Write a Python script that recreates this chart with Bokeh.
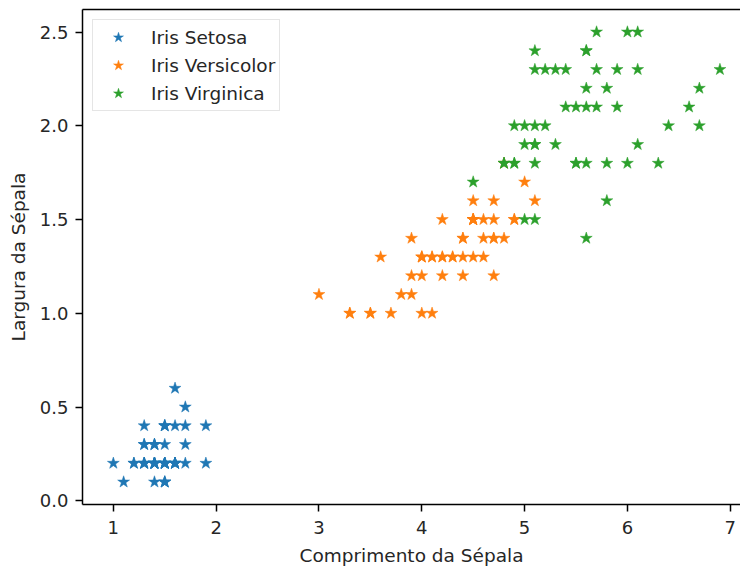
from bokeh.plotting import figure
from bokeh.models import (ColumnDataSource, LinearAxis, FixedTicker, Range1d, Legend, LegendItem,
                          PrintfTickFormatter)
from bokeh.embed import file_html
from bokeh.resources import INLINE

# Petal measurements (comprimento x largura) by species
setosa_len = [1.4, 1.4, 1.3, 1.5, 1.4, 1.7, 1.4, 1.5, 1.4, 1.5, 1.5, 1.6, 1.4, 1.1, 1.2, 1.5, 1.3,
              1.4, 1.7, 1.5, 1.7, 1.5, 1.0, 1.7, 1.9, 1.6, 1.6, 1.5, 1.4, 1.6, 1.6, 1.5, 1.5, 1.4,
              1.5, 1.2, 1.3, 1.5, 1.3, 1.5, 1.3, 1.3, 1.3, 1.6, 1.9, 1.4, 1.6, 1.4, 1.5, 1.4]
setosa_wid = [0.2, 0.2, 0.2, 0.2, 0.2, 0.4, 0.3, 0.2, 0.2, 0.1, 0.2, 0.2, 0.1, 0.1, 0.2, 0.4, 0.4,
              0.3, 0.3, 0.3, 0.2, 0.4, 0.2, 0.5, 0.2, 0.2, 0.4, 0.2, 0.2, 0.2, 0.2, 0.4, 0.1, 0.2,
              0.2, 0.2, 0.2, 0.1, 0.2, 0.2, 0.3, 0.3, 0.2, 0.6, 0.4, 0.3, 0.2, 0.2, 0.2, 0.2]

versicolor_len = [4.7, 4.5, 4.9, 4.0, 4.6, 4.5, 4.7, 3.3, 4.6, 3.9, 3.5, 4.2, 4.0, 4.7, 3.6, 4.4, 4.5,
                  4.1, 4.5, 3.9, 4.8, 4.0, 4.9, 4.7, 4.3, 4.4, 4.8, 5.0, 4.5, 3.5, 3.8, 3.7, 3.9, 5.1,
                  4.5, 4.5, 4.7, 4.4, 4.1, 4.0, 4.4, 4.6, 4.0, 3.3, 4.2, 4.2, 4.2, 4.3, 3.0, 4.1]
versicolor_wid = [1.4, 1.5, 1.5, 1.3, 1.5, 1.3, 1.6, 1.0, 1.3, 1.4, 1.0, 1.5, 1.0, 1.4, 1.3, 1.4, 1.5,
                  1.0, 1.5, 1.1, 1.8, 1.3, 1.5, 1.2, 1.3, 1.4, 1.4, 1.7, 1.5, 1.0, 1.1, 1.0, 1.2, 1.6,
                  1.5, 1.6, 1.5, 1.3, 1.3, 1.3, 1.2, 1.4, 1.2, 1.0, 1.3, 1.2, 1.3, 1.3, 1.1, 1.3]

virginica_len = [6.0, 5.1, 5.9, 5.6, 5.8, 6.6, 4.5, 6.3, 5.8, 6.1, 5.1, 5.3, 5.5, 5.0, 5.1, 5.3, 5.5,
                 6.7, 6.9, 5.0, 5.7, 4.9, 6.7, 4.9, 5.7, 6.0, 4.8, 4.9, 5.6, 5.8, 6.1, 6.4, 5.6, 5.1,
                 5.6, 6.1, 5.6, 5.5, 4.8, 5.4, 5.6, 5.1, 5.1, 5.9, 5.7, 5.2, 5.0, 5.2, 5.4, 5.1]
virginica_wid = [2.5, 1.9, 2.1, 1.8, 2.2, 2.1, 1.7, 1.8, 1.8, 2.5, 2.0, 1.9, 2.1, 2.0, 2.4, 2.3, 1.8,
                 2.2, 2.3, 1.5, 2.3, 2.0, 2.0, 1.8, 2.1, 1.8, 1.8, 1.8, 2.1, 1.6, 1.9, 2.0, 2.2, 1.5,
                 1.4, 2.3, 2.4, 1.8, 1.8, 2.1, 2.4, 2.3, 1.9, 2.3, 2.5, 2.3, 1.9, 2.0, 2.3, 1.8]

series_names = ["Iris Setosa", "Iris Versicolor", "Iris Virginica"]
series_colors = ["#1f77b4", "#ff7f0e", "#2ca02c"]
x_ticks = [1, 2, 3, 4, 5, 6, 7]
y_ticks = [0.0, 0.5, 1.0, 1.5, 2.0, 2.5]

FONT = "DejaVu Sans"
TEXT = "#262626"

p = figure(width=740, height=568, output_backend="svg", toolbar_location=None,
           x_range=Range1d(0.70, 7.10), y_range=Range1d(-0.02, 2.62),
           min_border_left=82, min_border_right=0, min_border_top=9, min_border_bottom=62)
p.grid.visible = False
p.outline_line_color = None
p.background_fill_color = "white"
p.border_fill_color = "white"

series = [(setosa_len, setosa_wid), (versicolor_len, versicolor_wid), (virginica_len, virginica_wid)]
items = []
for (xs, ys), name, color in zip(series, series_names, series_colors):
    src = ColumnDataSource(dict(x=xs, y=ys))
    r = p.scatter("x", "y", source=src, marker="star", size=12.5,
                  fill_color=color, line_color=color, line_width=0.5)
    items.append(LegendItem(label=name, renderers=[r]))

p.xaxis.axis_label = "Comprimento da Sépala"
p.yaxis.axis_label = "Largura da Sépala"
p.xaxis.ticker = FixedTicker(ticks=x_ticks)
p.yaxis.ticker = FixedTicker(ticks=y_ticks)
p.yaxis.formatter = PrintfTickFormatter(format="%.1f")

for ax in (p.xaxis[0], p.yaxis[0]):
    ax.axis_line_width = 1.5
    ax.axis_line_color = "black"
    ax.major_tick_line_width = 1.5
    ax.major_tick_line_color = "black"
    ax.major_tick_out = 7
    ax.major_tick_in = 0
    ax.minor_tick_line_color = None
    ax.major_label_text_font = FONT
    ax.major_label_text_font_size = "18px"
    ax.major_label_text_color = TEXT
    ax.axis_label_text_font = FONT
    ax.axis_label_text_font_size = "18.5px"
    ax.axis_label_text_font_style = "normal"
    ax.axis_label_text_color = TEXT

p.xaxis.major_label_standoff = 9
p.xaxis.axis_label_standoff = 8
p.yaxis.major_label_standoff = 7
p.yaxis.axis_label_standoff = 8

# closing line along the top of the plotting area
top = LinearAxis(ticker=FixedTicker(ticks=[]), axis_line_width=1.5, axis_line_color="black",
                 major_tick_line_color=None, minor_tick_line_color=None,
                 major_label_text_font_size="0px")
p.add_layout(top, "above")

legend = Legend(items=items, location="top_left",
                label_text_font=FONT, label_text_font_size="18.5px", label_text_color=TEXT,
                glyph_width=42, glyph_height=26, label_height=26, label_standoff=12,
                spacing=2, padding=4, margin=10,
                border_line_color="#cccccc", border_line_width=1.2,
                background_fill_color="white", background_fill_alpha=0.8)
p.add_layout(legend)

open("out.html", "w").write(file_html(p, INLINE))
